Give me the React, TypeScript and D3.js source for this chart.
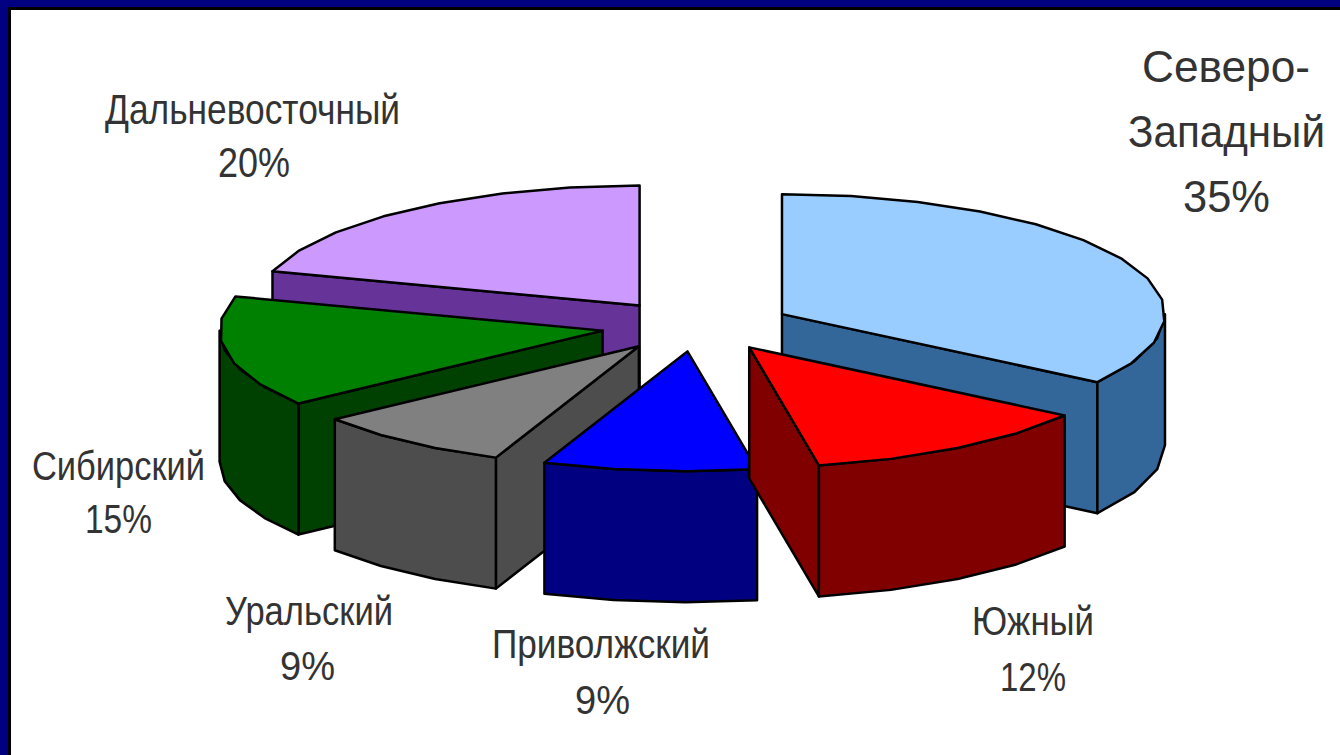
import * as d3 from 'd3'

const WIDTH = 1340
const HEIGHT = 755

const CX = 697
const CY = 326
const RX = 383
const RY = 120
const DEPTH = 131
const EXPLODE_X = 96
const EXPLODE_Y = 25.5

// clockwise from 12 o'clock, same order as the original chart
const REGIONS = ['Северо-Западный', 'Южный', 'Приволжский', 'Уральский', 'Сибирский', 'Дальневосточный']
const SHARES = [34.6, 12.49, 9, 8.51, 15, 20.4]
const TOP_COLORS = ['#99ccff', '#ff0000', '#0000ff', '#808080', '#008000', '#cc99ff']
const WALL_COLORS = ['#336699', '#800000', '#000080', '#4d4d4d', '#004000', '#663399']
// back to front
const PAINT_ORDER = [5, 0, 4, 3, 2, 1]

const LABEL_LINES = [['Северо-', 'Западный', '35%'], ['Южный', '12%'], ['Приволжский', '9%'], ['Уральский', '9%'], ['Сибирский', '15%'], ['Дальневосточный', '20%']]
const LABEL_LEFT = [[1142, 1128, 1183], [972, 1000], [492, 575], [225, 280], [32, 85], [105, 218]]
const LABEL_RIGHT = [[1310, 1325, 1270], [1094, 1066], [710, 630], [393, 335], [205, 152], [400, 290]]
const LABEL_BASE = [[82, 147, 212], [635, 691], [658, 714], [625, 680], [480, 533], [124, 177]]
const LABEL_SIZE = [45, 40, 40, 40, 40, 42]

type Pt = [number, number]

const arcs = d3.pie<number>().sort(null).value((d) => d)(SHARES)
const path = d3.line<Pt>()

function Slice({ index }: { index: number }) {
  const { startAngle, endAngle } = arcs[index]
  const mid = (startAngle + endAngle) / 2
  const ax = CX + EXPLODE_X * Math.sin(mid)
  const ay = CY - EXPLODE_Y * Math.cos(mid)
  const rim = (a: number): Pt => [ax + RX * Math.sin(a), ay - RY * Math.cos(a)]
  const down = ([x, y]: Pt): Pt => [x, y + DEPTH]
  // the original rim is a coarse polygon, so keep the steps visible
  const rimPoints = (a0: number, a1: number): Pt[] => {
    const steps = Math.max(2, Math.round((a1 - a0) / 0.18))
    return d3.range(steps + 1).map((i) => rim(a0 + ((a1 - a0) * i) / steps))
  }

  const apex: Pt = [ax, ay]
  const top = [apex, ...rimPoints(startAngle, endAngle)]

  // only the walls facing the viewer
  const walls: Pt[][] = []
  const wallAt = (a: number) => {
    const e = rim(a)
    walls.push([apex, e, down(e), down(apex)])
  }
  if (Math.sin(startAngle) < -1e-6) wallAt(startAngle)
  if (Math.sin(endAngle) > 1e-6) wallAt(endAngle)
  const a0 = Math.max(startAngle, Math.PI / 2)
  const a1 = Math.min(endAngle, (3 * Math.PI) / 2)
  if (a1 > a0) {
    const pts = rimPoints(a0, a1)
    walls.push([...pts, ...pts.map(down).reverse()])
  }

  return (
    <g stroke="#000" strokeWidth={2.5} strokeLinejoin="round">
      {walls.map((w, i) => (
        <path key={i} d={path(w) + 'Z'} fill={WALL_COLORS[index]} />
      ))}
      <path d={path(top) + 'Z'} fill={TOP_COLORS[index]} />
    </g>
  )
}

export default function App() {
  return (
    <svg
      width={WIDTH}
      height={HEIGHT}
      viewBox={`0 0 ${WIDTH} ${HEIGHT}`}
      style={{ position: 'fixed', left: 0, top: 0, display: 'block' }}
    >
      <rect width={WIDTH} height={HEIGHT} fill="#000080" />
      <rect x={8} y={7} width={WIDTH} height={HEIGHT} fill="#000" />
      <rect x={11} y={10} width={WIDTH} height={HEIGHT} fill="#fff" />
      {PAINT_ORDER.map((i) => (
        <Slice key={REGIONS[i]} index={i} />
      ))}
      <g fontFamily="'Liberation Sans', Arial, sans-serif" fill="#333" textAnchor="middle">
        {LABEL_LINES.map((lines, i) =>
          lines.map((line, j) => (
            <text
              key={line}
              x={(LABEL_LEFT[i][j] + LABEL_RIGHT[i][j]) / 2}
              y={LABEL_BASE[i][j]}
              fontSize={LABEL_SIZE[i]}
              textLength={LABEL_RIGHT[i][j] - LABEL_LEFT[i][j]}
              lengthAdjust="spacingAndGlyphs"
            >
              {line}
            </text>
          )),
        )}
      </g>
    </svg>
  )
}
